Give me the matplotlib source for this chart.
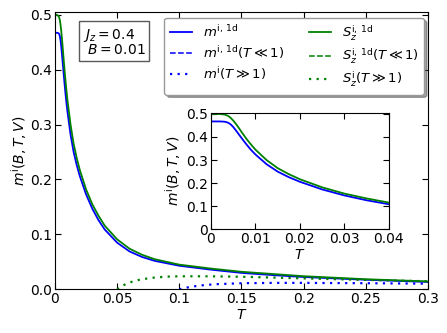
import matplotlib
matplotlib.use("Agg")
import matplotlib.pyplot as plt

# temperature grid
T = [0.0, 0.001, 0.002, 0.003, 0.0035, 0.004, 0.0045, 0.005, 0.0055, 0.006,
     0.007, 0.008, 0.009, 0.010, 0.0125, 0.015, 0.0175, 0.020, 0.025, 0.030,
     0.035, 0.040, 0.050, 0.060, 0.070, 0.080, 0.100, 0.125, 0.150, 0.175,
     0.200, 0.250, 0.300]

m_1d = [0.467, 0.467, 0.467, 0.466, 0.464, 0.460, 0.453, 0.443, 0.431, 0.418,
        0.392, 0.367, 0.344, 0.324, 0.282, 0.250, 0.226, 0.206, 0.173, 0.147,
        0.126, 0.109, 0.085, 0.069, 0.059, 0.052, 0.043, 0.036, 0.030, 0.026,
        0.0225, 0.0175, 0.0135]

S_1d = [0.500, 0.500, 0.499, 0.497, 0.494, 0.489, 0.481, 0.471, 0.459, 0.446,
        0.418, 0.391, 0.367, 0.345, 0.300, 0.265, 0.239, 0.217, 0.182, 0.155,
        0.134, 0.116, 0.091, 0.074, 0.063, 0.055, 0.045, 0.038, 0.032, 0.028,
        0.024, 0.0185, 0.0145]

# high temperature expansions
T_hs = [0.050, 0.055, 0.060, 0.065, 0.070, 0.080, 0.090, 0.100, 0.125, 0.150,
        0.175, 0.200, 0.250, 0.300]
S_hs = [0.0, 0.0075, 0.0125, 0.0160, 0.0185, 0.0215, 0.0232, 0.0238, 0.0238,
        0.0230, 0.0215, 0.0200, 0.0172, 0.0148]

T_hm = [0.100, 0.105, 0.110, 0.120, 0.130, 0.150, 0.175, 0.200, 0.250, 0.300]
m_hm = [0.0, 0.0028, 0.0050, 0.0078, 0.0095, 0.0112, 0.0118, 0.0118, 0.0112,
        0.0104]

x_ticks = [0, 0.05, 0.1, 0.15, 0.2, 0.25, 0.3]
x_labels = ["0", "0.05", "0.1", "0.15", "0.2", "0.25", "0.3"]
y_ticks = [0, 0.1, 0.2, 0.3, 0.4, 0.5]
y_labels = ["0.0", "0.1", "0.2", "0.3", "0.4", "0.5"]
ix_ticks = [0, 0.01, 0.02, 0.03, 0.04]
ix_labels = ["0", "0.01", "0.02", "0.03", "0.04"]
iy_labels = ["0", "0.1", "0.2", "0.3", "0.4", "0.5"]

plt.rcParams["font.family"] = "DejaVu Sans"
plt.rcParams["mathtext.fontset"] = "dejavusans"
plt.rcParams["font.size"] = 10

blue = "#0000ff"
green = "#008000"
dots = (0, (1, 2.4))

fig = plt.figure(figsize=(4.47, 3.33), dpi=100, facecolor="white")
ax = fig.add_axes([0.123, 0.131, 0.8345, 0.834])


def style_ticks(a):
    a.tick_params(direction="in", top=True, right=True, length=4, width=0.8,
                  labelsize=10, pad=2)


ax.plot(T, m_1d, color=blue, lw=1.3, label=r"$m^{\rm i,\,1d}$")
ax.plot([], [], color=blue, lw=1.1, ls="--", label=r"$m^{\rm i,\,1d}(T\ll 1)$")
ax.plot(T_hm, m_hm, color=blue, lw=1.6, ls=dots, label=r"$m^{\rm i}(T\gg 1)$")
ax.plot(T, S_1d, color=green, lw=1.3, label=r"$S_z^{\rm i,\,1d}$")
ax.plot([], [], color=green, lw=1.1, ls="--", label=r"$S_z^{\rm i,\,1d}(T\ll 1)$")
ax.plot(T_hs, S_hs, color=green, lw=1.6, ls=dots, label=r"$S_z^{\rm i}(T\gg 1)$")

ax.set_xlim(0, 0.3)
ax.set_ylim(0, 0.5055)
ax.set_xticks(x_ticks, x_labels)
ax.set_yticks(y_ticks, y_labels)
style_ticks(ax)
ax.set_xlabel(r"$T$", labelpad=1)
ax.set_ylabel(r"$m^{\rm i}(B,T,V)$")
ax.yaxis.set_label_coords(-0.07, 0.5)

leg = ax.legend(loc="upper right", ncol=2, fontsize=9.5, fancybox=True,
                shadow=True, framealpha=1, edgecolor="0.6",
                bbox_to_anchor=(1.0, 0.992), handlelength=1.7,
                handletextpad=0.8, columnspacing=1.9, labelspacing=0.3,
                borderpad=0.4, borderaxespad=0.3)

ax.text(0.075, 0.945, "$J_z = 0.4$\n $B = 0.01$", transform=ax.transAxes,
        fontsize=10, va="top", ha="left", linespacing=0.95,
        bbox=dict(boxstyle="square,pad=0.25", fc="white", ec="0.35", lw=1))

ins = fig.add_axes([0.472, 0.311, 0.398, 0.350])
ins.plot(T, m_1d, color=blue, lw=1.3)
ins.plot(T, S_1d, color=green, lw=1.3)
ins.set_xlim(0, 0.04)
ins.set_ylim(0, 0.504)
ins.set_xticks(ix_ticks, ix_labels)
ins.set_yticks(y_ticks, iy_labels)
style_ticks(ins)
ins.set_xlabel(r"$T$", labelpad=1)
ins.set_ylabel(r"$m^{\rm i}(B,T,V)$", labelpad=2)

fig.savefig("out.png", dpi=100, facecolor="white")
